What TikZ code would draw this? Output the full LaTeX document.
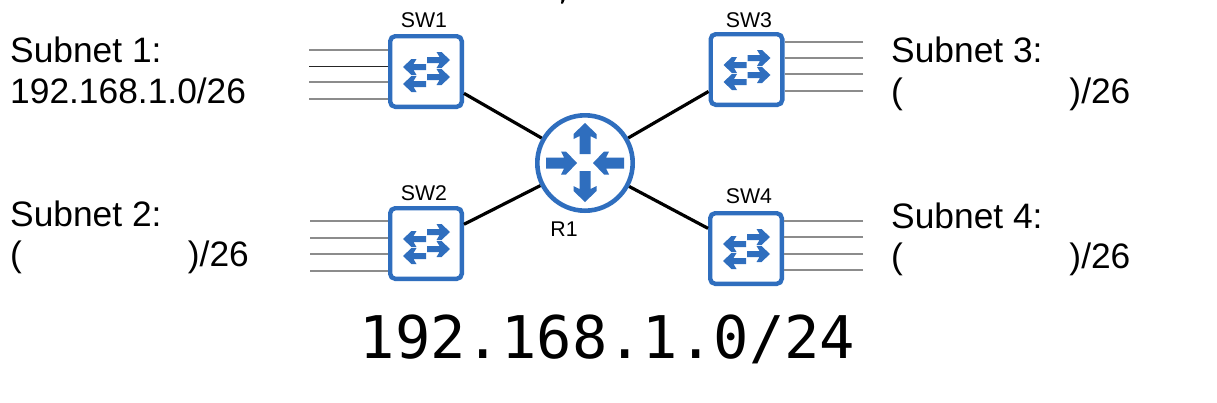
\documentclass[tikz,border=0pt]{standalone}
\usepackage{fontspec}
\setmainfont{Liberation Sans}
\newfontfamily\monofam{DejaVu Sans Mono}
\definecolor{iconblue}{HTML}{2F6EBE}
\definecolor{wiregray}{HTML}{8C8C8C}
\tikzset{
  switchbox/.style={draw=iconblue,line width=4.4bp,fill=white,rounded corners=5bp,minimum width=71.6bp,minimum height=70.6bp,inner sep=0pt},
  routerbox/.style={draw=iconblue,line width=4.6bp,fill=white,circle,minimum size=95.4bp,inner sep=0pt},
  uplink/.style={line width=3.2bp,black},
  wire/.style={line width=1.3bp,wiregray},
  darkwire/.style={line width=1bp,black!85},
  bigtext/.style={anchor=base west,inner sep=0pt,font=\fontsize{35.35bp}{40bp}\selectfont},
  smalltext/.style={anchor=base,inner sep=0pt,font=\fontsize{21.3bp}{24bp}\selectfont},
  swarrow/.pic={
    \fill[iconblue] (0,-3)--(12.5,-3)--(9.5,-8)--(14.5,-8)--(23,0)--(14.5,8)--(9.5,8)--(12.5,3)--(0,3)--cycle;
  },
  rtarrow/.pic={
    \fill[iconblue] (0,-5.5)--(18,-5.5)--(15,-11.5)--(20,-11.5)--(31,0)--(20,11.5)--(15,11.5)--(18,5.5)--(0,5.5)--cycle;
  }
}
\newcommand{\swicon}[1]{%
  \pic[shift={($(#1)+(1,-11.5)$)}] {swarrow};
  \pic[shift={($(#1)+(0,-4.5)$)},xscale=-1] {swarrow};
  \pic[shift={($(#1)+(1,5.5)$)}] {swarrow};
  \pic[shift={($(#1)+(0,12.5)$)},xscale=-1] {swarrow};
}
\usetikzlibrary{calc}
\begin{document}
\begin{tikzpicture}[x=1bp,y=-1bp]
\useasboundingbox (0,0) rectangle (1217,402);
\fill[white] (0,0) rectangle (1217,402);
% clipped fragment at the top edge
\fill[black] (561.5,0) -- (564.5,0) -- (563,3.5) -- (561,3.5) -- cycle;

\node[switchbox] (sw1) at (426,71.5) {};
\node[switchbox] (sw2) at (426,243.5) {};
\node[switchbox] (sw3) at (746.5,69.5) {};
\node[switchbox] (sw4) at (746,248.5) {};
\node[routerbox] (r1) at (585,163) {};

\foreach \n/\yy in {a/50,c/82,d/99}{\coordinate (s1\n) at (309,\yy); \draw[wire] (s1\n) -- (s1\n -| sw1.west);}
\coordinate (s1b) at (309,66); \draw[darkwire] (s1b) -- (s1b -| sw1.west);
\foreach \n/\yy in {a/221,b/238,c/254,d/271}{\coordinate (s2\n) at (310,\yy); \draw[wire] (s2\n) -- (s2\n -| sw2.west);}
\foreach \n/\yy in {a/42,b/58,c/74,d/91}{\coordinate (s3\n) at (863,\yy); \draw[wire] (s3\n) -- (s3\n -| sw3.east);}
\foreach \n/\yy in {a/221,b/237,c/254,d/270}{\coordinate (s4\n) at (863,\yy); \draw[wire] (s4\n) -- (s4\n -| sw4.east);}

\draw[uplink] (sw1) -- (r1);
\draw[uplink] (sw2) -- (r1);
\draw[uplink] (sw3) -- (r1);
\draw[uplink] (sw4) -- (r1);

\swicon{sw1}\swicon{sw2}\swicon{sw3}\swicon{sw4}

\pic[shift={(546,163)}] {rtarrow};
\pic[shift={(624,163)},xscale=-1] {rtarrow};
\pic[shift={(585,154)},rotate=90] {rtarrow};
\pic[shift={(585,171)},rotate=-90] {rtarrow};

\node[smalltext] (l1) at (424,27) {SW1};
\node[smalltext] (l2) at (424,200) {SW2};
\node[smalltext] (l3) at (749,27) {SW3};
\node[smalltext] (l4) at (749,203) {SW4};
\node[smalltext] (l5) at (564,236) {R1};

\node[bigtext] (t1a) at (10,62) {Subnet 1:};
\node[bigtext] (t1b) at (10,103) {192.168.1.0/26};
\node[bigtext] (t2a) at (10,226) {Subnet 2:};
\node[bigtext] (t2b) at (10,266) {(\hspace{166bp})/26};
\node[bigtext] (t3a) at (891,62) {Subnet 3:};
\node[bigtext] (t3b) at (891,103) {(\hspace{166.5bp})/26};
\node[bigtext] (t4a) at (891,228) {Subnet 4:};
\node[bigtext] (t4b) at (891,268) {(\hspace{166.5bp})/26};
\node[anchor=base,inner sep=0pt,font=\monofam\fontsize{58.8bp}{60bp}\selectfont] (net) at (607.5,358) {192.168.1.0/24};
\end{tikzpicture}
\end{document}
